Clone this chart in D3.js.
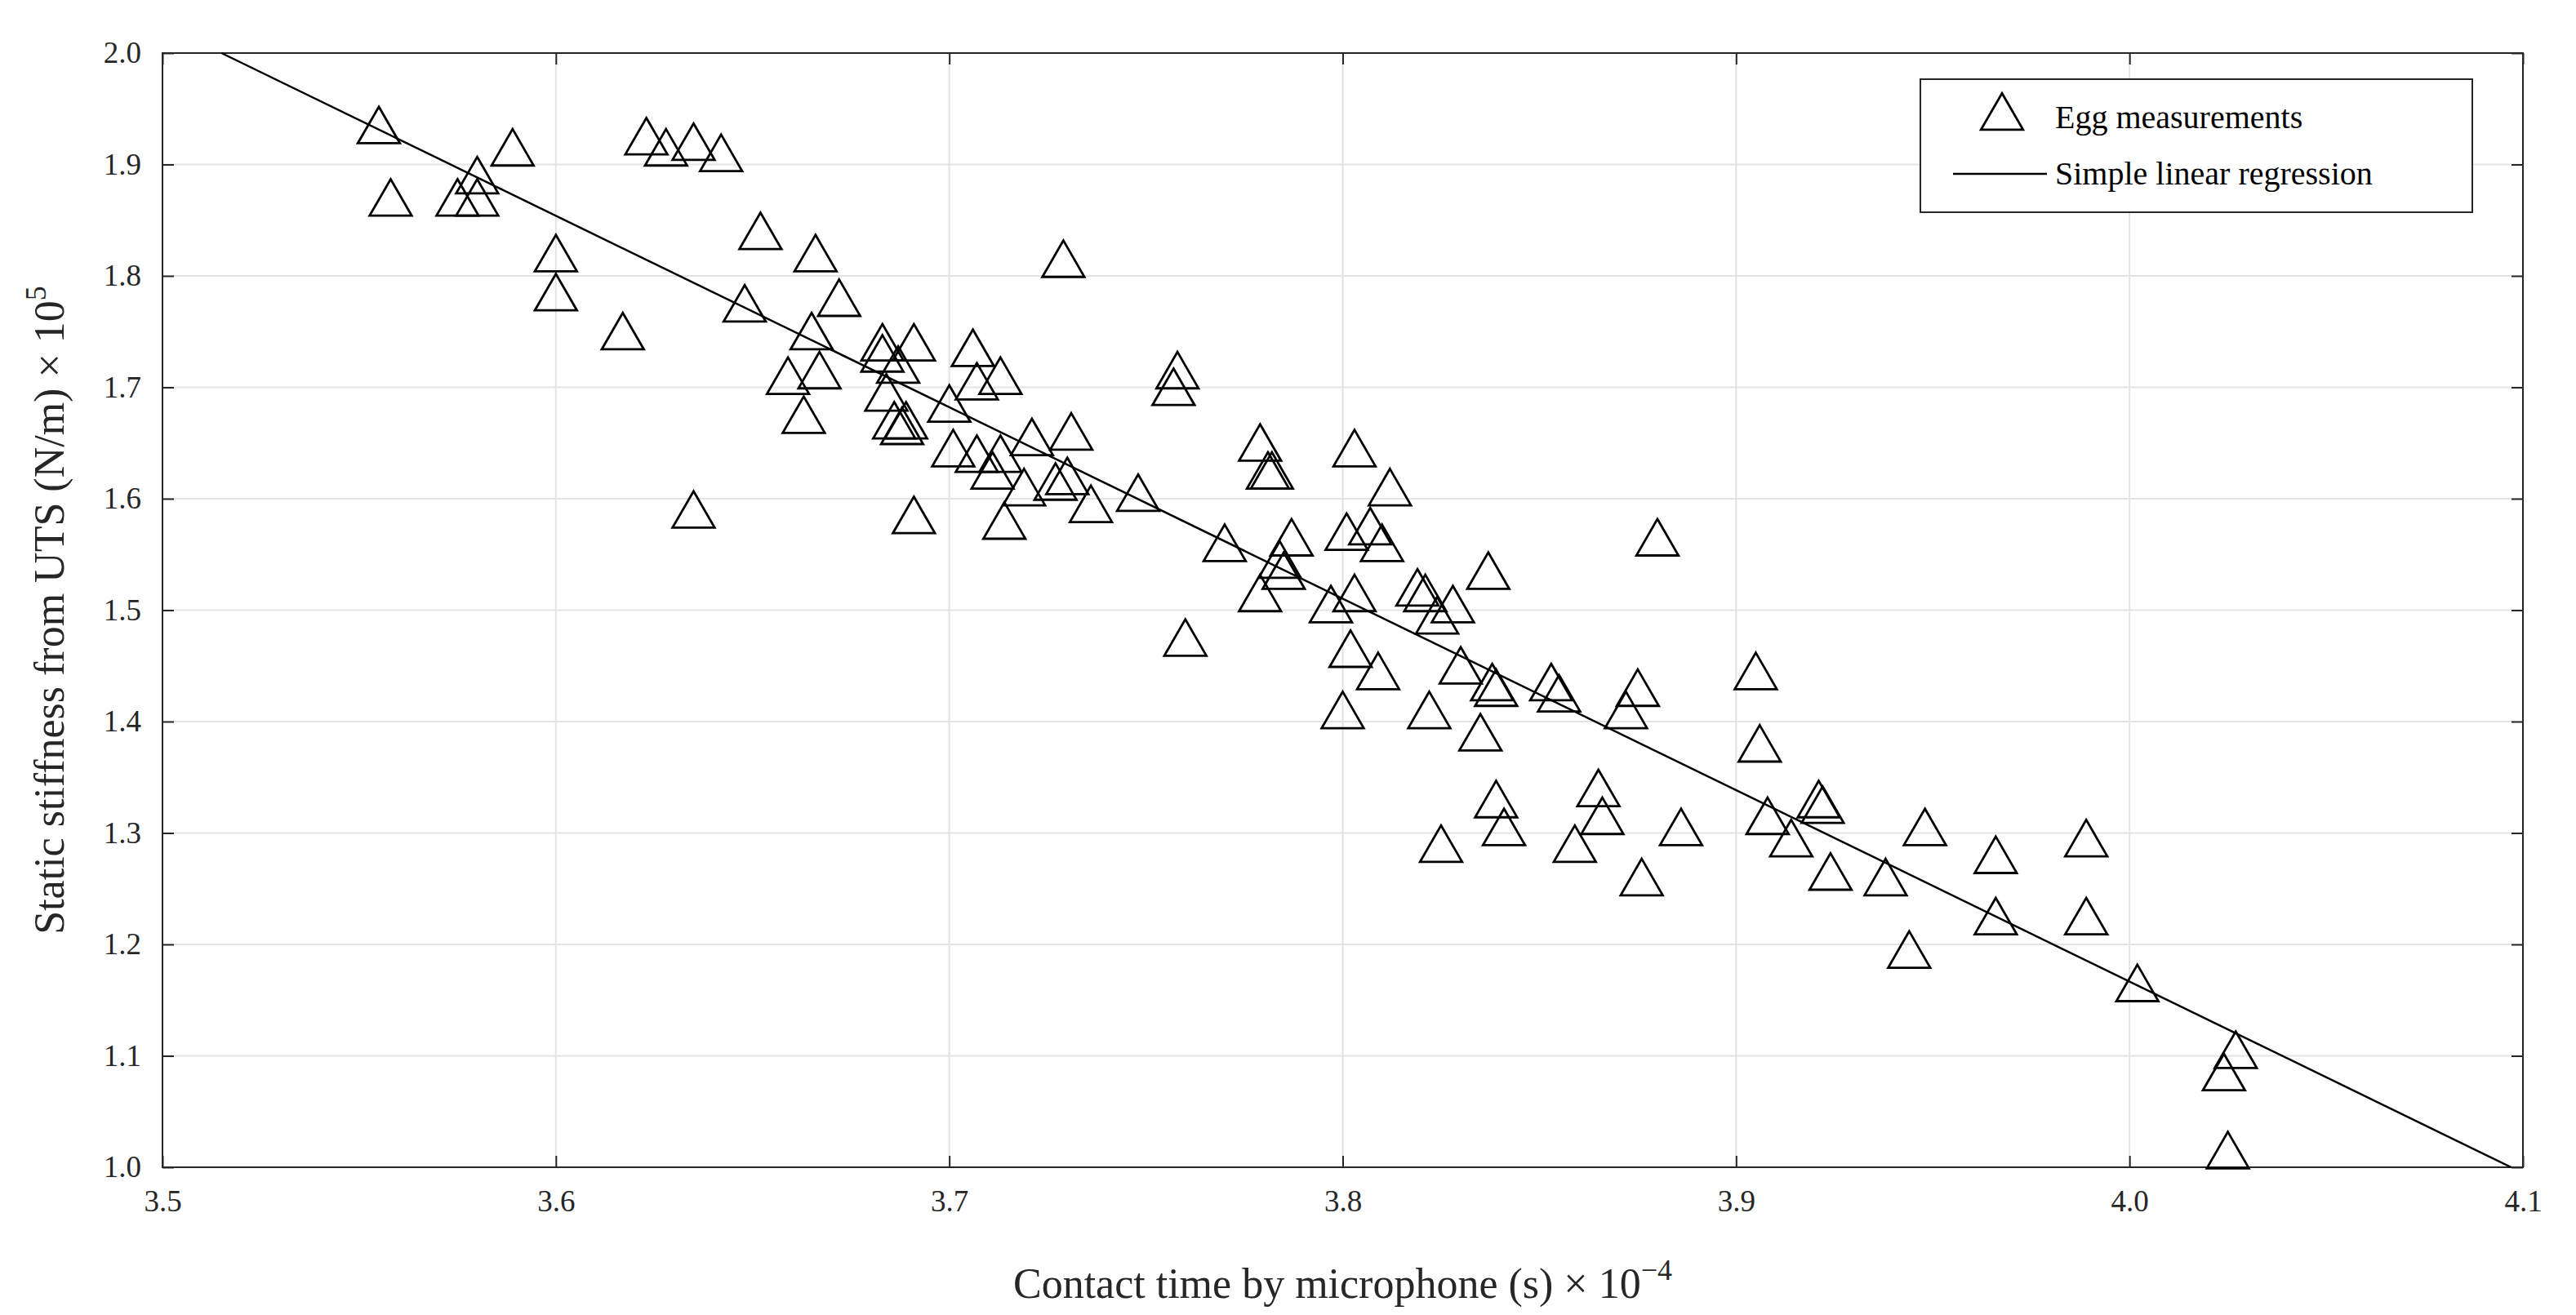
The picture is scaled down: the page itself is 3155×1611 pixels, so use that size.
<!DOCTYPE html>
<html><head><meta charset="utf-8">
<script src="https://cdn.jsdelivr.net/npm/d3@7"></script>
<style>body{margin:0;background:#fff}svg text{font-family:"Liberation Serif","DejaVu Serif",serif}</style>
</head><body>
<svg id="c" width="3155" height="1611"></svg>
<script>
// contact time (x1e-4 s) and static stiffness (x1e5 N/m)
const contactTime = [3.555,3.558,3.575,3.580,3.580,3.589,3.600,3.600,3.617,3.623,3.628,3.635,3.642,3.635,3.648,3.652,3.659,3.665,3.666,3.663,3.667,3.672,3.683,3.683,3.684,3.687,3.686,3.688,3.689,3.691,3.691,3.700,3.701,3.706,3.707,3.707,3.711,3.713,3.713,3.714,3.719,3.721,3.727,3.729,3.730,3.731,3.736,3.748,3.757,3.758,3.760,3.770,3.779,3.779,3.781,3.782,3.784,3.785,3.787,3.797,3.800,3.801,3.802,3.803,3.803,3.807,3.809,3.810,3.812,3.819,3.821,3.822,3.824,3.825,3.828,3.830,3.835,3.837,3.838,3.839,3.839,3.841,3.853,3.855,3.859,3.865,3.866,3.872,3.875,3.876,3.880,3.886,3.905,3.906,3.908,3.914,3.921,3.922,3.924,3.938,3.944,3.948,3.966,3.966,3.989,3.989,4.002,4.024,4.027,4.025];
const stiffness = [1.93,1.865,1.865,1.885,1.865,1.91,1.815,1.78,1.745,1.92,1.91,1.915,1.905,1.585,1.77,1.835,1.705,1.745,1.815,1.67,1.71,1.775,1.735,1.725,1.69,1.715,1.665,1.66,1.665,1.735,1.58,1.68,1.64,1.73,1.70,1.635,1.62,1.635,1.705,1.575,1.605,1.65,1.61,1.81,1.615,1.655,1.59,1.60,1.695,1.71,1.47,1.555,1.645,1.51,1.62,1.62,1.54,1.53,1.56,1.50,1.405,1.565,1.46,1.64,1.51,1.57,1.44,1.555,1.605,1.515,1.51,1.405,1.49,1.285,1.50,1.445,1.385,1.53,1.43,1.425,1.325,1.30,1.43,1.42,1.285,1.335,1.31,1.405,1.425,1.255,1.56,1.30,1.44,1.375,1.31,1.29,1.325,1.32,1.26,1.255,1.19,1.30,1.275,1.22,1.29,1.22,1.16,1.08,1.10,1.01];
const regression = [[3.515, 2.0], [4.097, 1.0]];
const xTicks = [3.5,3.6,3.7,3.8,3.9,4.0,4.1];
const yTicks = [1.0,1.1,1.2,1.3,1.4,1.5,1.6,1.7,1.8,1.9,2.0];

const svg = d3.select('#c');
const L = 199, R = 3090, T = 65, B = 1430;
const x = d3.scaleLinear().domain([3.5, 4.1]).range([L, R]);
const y = d3.scaleLinear().domain([1.0, 2.0]).range([B, T]);

// grid
svg.append('g').selectAll('line').data(xTicks).join('line')
  .attr('x1', d => x(d)).attr('x2', d => x(d)).attr('y1', T).attr('y2', B)
  .attr('stroke', '#e3e3e3').attr('stroke-width', 2);
svg.append('g').selectAll('line').data(yTicks).join('line')
  .attr('y1', d => y(d)).attr('y2', d => y(d)).attr('x1', L).attr('x2', R)
  .attr('stroke', '#e3e3e3').attr('stroke-width', 2);

// axes with inward ticks
const fmt = d3.format('.1f');
const styleAxis = g => {
  g.select('.domain').remove();
  g.selectAll('line').attr('stroke', '#262626').attr('stroke-width', 2);
  g.selectAll('text').attr('font-size', 37).attr('fill', '#262626');
};
svg.append('g').attr('transform', `translate(0,${B})`)
  .call(d3.axisBottom(x).tickValues(xTicks).tickFormat(fmt).tickSizeInner(-14).tickPadding(28)).call(styleAxis);
svg.append('g').attr('transform', `translate(0,${T})`)
  .call(d3.axisTop(x).tickValues(xTicks).tickFormat('').tickSizeInner(-14)).call(styleAxis);
svg.append('g').attr('transform', `translate(${L},0)`)
  .call(d3.axisLeft(y).tickValues(yTicks).tickFormat(fmt).tickSizeInner(-14).tickPadding(26)).call(styleAxis);
svg.append('g').attr('transform', `translate(${R},0)`)
  .call(d3.axisRight(y).tickValues(yTicks).tickFormat('').tickSizeInner(-14)).call(styleAxis);
svg.append('rect').attr('x', L).attr('y', T).attr('width', R - L).attr('height', B - T)
  .attr('fill', 'none').attr('stroke', '#262626').attr('stroke-width', 2);

// regression line
svg.append('path').datum(regression)
  .attr('d', d3.line().x(d => x(d[0])).y(d => y(d[1])))
  .attr('stroke', '#000').attr('stroke-width', 2.5).attr('fill', 'none');

// triangles
const tri = d3.symbol().type(d3.symbolTriangle).size(1150);
svg.append('g').selectAll('path').data(contactTime).join('path')
  .attr('transform', (d, i) => `translate(${x(d)},${y(stiffness[i])})`)
  .attr('d', tri).attr('fill', 'none').attr('stroke', '#000').attr('stroke-width', 2.8);

// axis labels
svg.append('text').attr('x', (L + R) / 2).attr('y', 1590).attr('text-anchor', 'middle')
  .attr('font-size', 52).attr('fill', '#262626')
  .html('Contact time by microphone (s) × 10<tspan dy="-22" font-size="36">−4</tspan>');
svg.append('text').attr('transform', `translate(78,${(T + B) / 2}) rotate(-90)`).attr('text-anchor', 'middle')
  .attr('font-size', 52).attr('fill', '#262626')
  .html('Static stiffness from UTS (N/m) × 10<tspan dy="-22" font-size="36">5</tspan>');

// legend
const lg = svg.append('g').attr('transform', 'translate(2352,97)');
lg.append('rect').attr('width', 676).attr('height', 163).attr('fill', '#fff').attr('stroke', '#262626').attr('stroke-width', 2);
lg.append('path').attr('transform', 'translate(100,47)').attr('d', tri).attr('fill', 'none').attr('stroke', '#000').attr('stroke-width', 2.8);
lg.append('line').attr('x1', 40).attr('x2', 155).attr('y1', 116).attr('y2', 116).attr('stroke', '#000').attr('stroke-width', 2.5);
lg.append('text').attr('x', 165).attr('y', 60).attr('font-size', 40).text('Egg measurements');
lg.append('text').attr('x', 165).attr('y', 129).attr('font-size', 40).text('Simple linear regression');
</script>
</body></html>
